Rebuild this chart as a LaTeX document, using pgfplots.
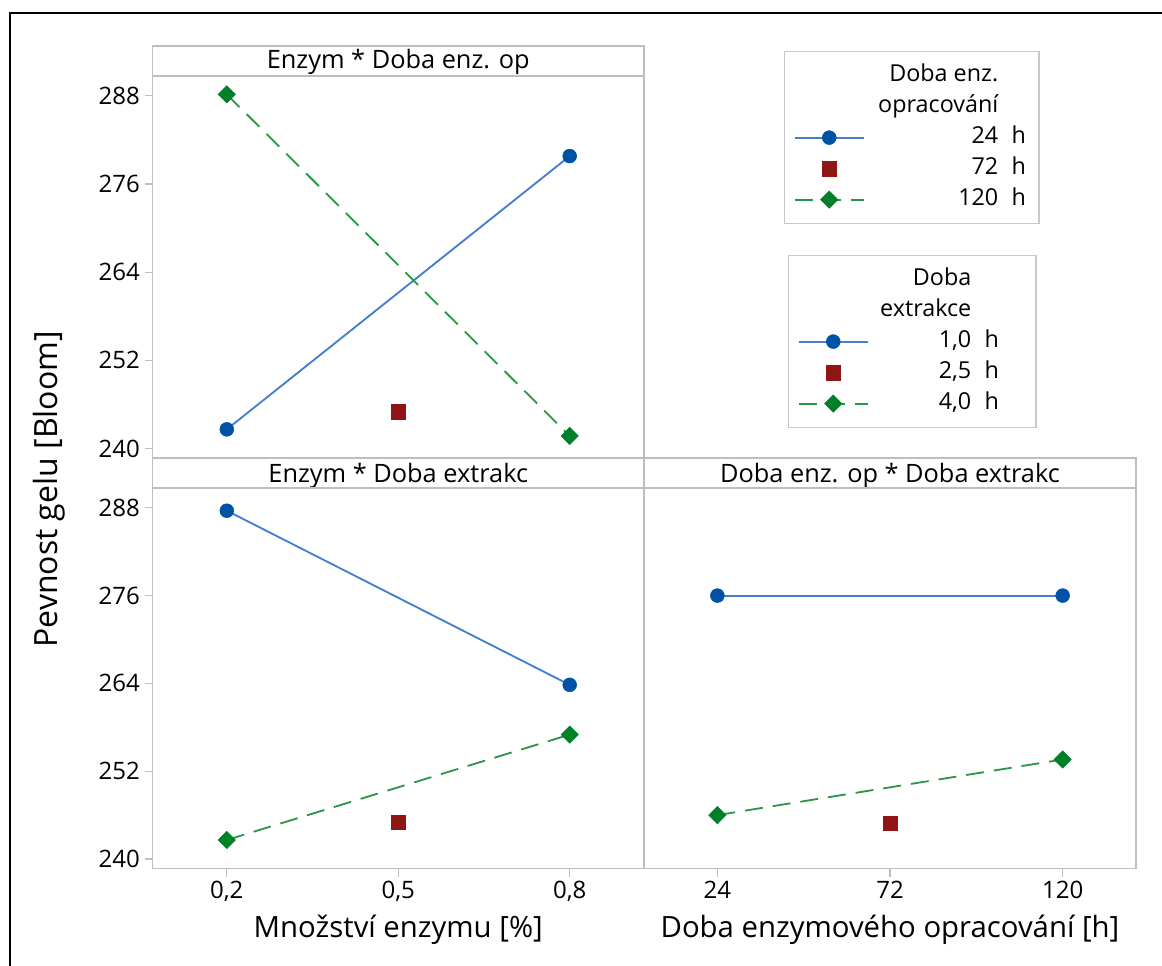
\documentclass[border=0pt]{standalone}
\usepackage{fontspec}
\setmainfont{Open Sans}
\usepackage{pgfplots}
\pgfplotsset{compat=1.18}

\definecolor{framegray}{RGB}{190,190,190}
\definecolor{boxgray}{RGB}{200,200,200}
\definecolor{mkblue}{RGB}{0,82,164}
\definecolor{lnblue}{RGB}{70,128,205}
\definecolor{mkred}{RGB}{145,20,22}
\definecolor{mkgreen}{RGB}{0,128,40}
\definecolor{lngreen}{RGB}{40,150,70}

% legend text helpers: number column right-aligned, unit after a fixed gap
\newcommand\unit{\hspace{10pt}h}
\newcommand\nounit{\hphantom{\hspace{10pt}h}}
\newcommand\LA[1]{\makebox[113.25pt][r]{#1}\kern3pt}
\newcommand\LB[1]{\makebox[90pt][r]{#1}\kern21pt}

\pgfplotsset{
  panel/.style={
    scale only axis,
    anchor=north west,
    axis line style={draw=framegray, line width=0.9pt},
    tick style={draw=framegray, line width=0.9pt},
    tick align=outside,
    major tick length=6pt,
    xtick pos=left, ytick pos=left,
    ymin=238.7, ymax=290.7,
    ytick={240,252,264,276,288},
    tick label style={font=\fontsize{18}{21}\selectfont, text=black},
    /pgf/number format/assume math mode=true,
    legend image code/.code={\draw[mark repeat=2,mark phase=2,##1,line width=1.5pt] plot coordinates {(0pt,0pt) (26pt,0pt) (52pt,0pt)};},
    legend cell align=left,
  },
  legbox/.style={
    draw=boxgray, line width=0.9pt, fill=white,
    inner xsep=6.75pt, inner ysep=9.75pt,
    column sep=7.5pt, row sep=6.75pt,
    font=\fontsize{17.5}{21}\selectfont,
    nodes={inner sep=0pt, text height=12.5pt, text depth=4pt},
  },
  s1/.style={color=lnblue, line width=1.4pt, mark=*, mark size=5.2pt,
    mark options={solid, fill=mkblue, draw=mkblue, line width=0.4pt}},
  s2/.style={only marks, mark=square*, mark size=5.4pt,
    mark options={fill=mkred, draw=mkred, line width=0.4pt}},
  s3/.style={color=lngreen, line width=1.35pt, dash pattern=on 13.5pt off 7.5pt,
    mark=square*, mark size=4.6pt,
    mark options={solid, rotate=45, fill=mkgreen, draw=mkgreen, line width=0.4pt}},
}

\begin{document}
\begin{tikzpicture}
\fill[white] (0,0) rectangle (871.5pt,-723.75pt);
\useasboundingbox (0,0) rectangle (871.5pt,-723.75pt);

% outer frame
\draw[line width=1.7pt] (7.5pt,-730pt) -- (7.5pt,-9.9pt) -- (880pt,-9.9pt);

% panel headers
\draw[framegray, line width=0.9pt] (114.375pt,-34.5pt) rectangle (483pt,-57pt);
\draw[framegray, line width=0.9pt] (114.375pt,-343.5pt) rectangle (483pt,-366pt);
\draw[framegray, line width=0.9pt] (483pt,-343.5pt) rectangle (852pt,-366pt);
\begin{scope}[font=\fontsize{19}{22}\selectfont]
\node[anchor=base] at (298.7pt,-51.5pt) {Enzym * Doba enz. op};
\node[anchor=base] at (298.7pt,-361.5pt) {Enzym * Doba extrakc};
\node[anchor=base] at (667.5pt,-361.5pt) {Doba enz. op * Doba extrakc};
\end{scope}

% Enzym x Doba enzymoveho opracovani
\begin{axis}[panel,
  at={(114.375pt,-57pt)}, width=368.625pt, height=286.5pt,
  xmin=0.07, xmax=0.93, xtick=\empty,
  legend style={legbox, at={(1.2849,1.0654)}, anchor=north west},
]
\addlegendimage{empty legend}\addlegendentry{\LA{Doba enz.\nounit}}
\addlegendimage{empty legend}\addlegendentry{\LA{opracování\nounit}}
\addplot[s1] coordinates {(0.2,242.6) (0.8,279.8)};
\addlegendentry{\LA{24\unit}}
\addplot[s2] coordinates {(0.5,245.0)};
\addlegendentry{\LA{72\unit}}
\addplot[s3] coordinates {(0.2,288.2) (0.8,241.7)};
\addlegendentry{\LA{120\unit}}
\end{axis}

% Enzym x Doba extrakce
\begin{axis}[panel,
  at={(114.375pt,-366pt)}, width=368.625pt, height=285.375pt,
  xmin=0.07, xmax=0.93, xtick={0.2,0.5,0.8},
  xticklabels={{0,2},{0,5},{0,8}},
]
\addplot[s1] coordinates {(0.2,287.6) (0.8,263.8)};
\addplot[s2] coordinates {(0.5,245.0)};
\addplot[s3] coordinates {(0.2,242.6) (0.8,257.0)};
\end{axis}

% Doba enzymoveho opracovani x Doba extrakce
\begin{axis}[panel,
  at={(483pt,-366pt)}, width=369pt, height=285.375pt,
  xmin=3.6, xmax=140.4, xtick={24,72,120}, ytick=\empty,
  legend style={legbox, at={(0.2927,1.6124)}, anchor=north west},
]
\addlegendimage{empty legend}\addlegendentry{\LB{Doba\nounit}}
\addlegendimage{empty legend}\addlegendentry{\LB{extrakce\nounit}}
\addplot[s1] coordinates {(24,276.0) (120,276.0)};
\addlegendentry{\LB{1,0\unit}}
\addplot[s2] coordinates {(72,244.9)};
\addlegendentry{\LB{2,5\unit}}
\addplot[s3] coordinates {(24,246.0) (120,253.6)};
\addlegendentry{\LB{4,0\unit}}
\end{axis}

% axis titles
\node[font=\fontsize{22}{26}\selectfont] at (298.7pt,-697.5pt) {Množství enzymu [\%]};
\node[font=\fontsize{22}{26}\selectfont] at (667.5pt,-697.5pt) {Doba enzymového opracování [h]};
\node[rotate=90, font=\fontsize{24}{28}\selectfont] at (37pt,-367pt) {Pevnost gelu [Bloom]};
\end{tikzpicture}
\end{document}
